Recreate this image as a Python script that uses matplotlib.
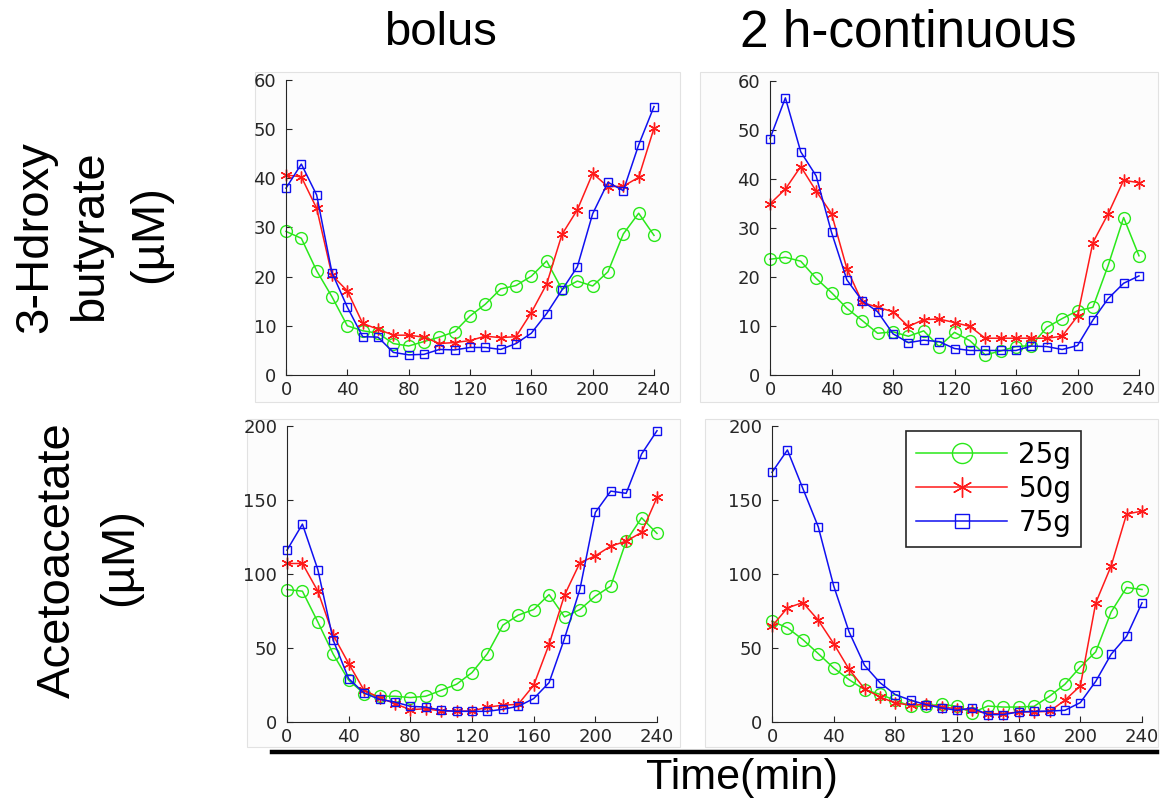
import numpy as np
import matplotlib.pyplot as plt
from matplotlib.patches import Rectangle
from matplotlib.lines import Line2D

# time axis (min)
time = list(range(0, 250, 10))

# 3-Hydroxybutyrate, bolus
hb_bolus_25 = [29.2, 27.8, 21.2, 15.9, 10.0, 9.0, 8.5, 6.4, 5.9, 6.8, 7.7, 8.8, 12.0,
               14.4, 17.5, 18.2, 20.1, 23.2, 17.4, 19.1, 18.1, 21.0, 28.7, 32.9, 28.4]
hb_bolus_50 = [40.7, 40.3, 33.9, 20.3, 17.1, 10.5, 9.3, 8.1, 8.1, 7.7, 6.4, 6.6, 7.0,
               7.9, 7.6, 7.8, 12.7, 18.5, 28.6, 33.6, 41.0, 38.3, 38.4, 40.2, 50.2]
hb_bolus_75 = [38.0, 42.9, 36.6, 20.8, 13.8, 7.8, 7.7, 4.6, 4.1, 4.2, 5.2, 5.1, 5.6,
               5.6, 5.2, 6.4, 8.5, 12.5, 17.3, 22.0, 32.8, 39.2, 37.5, 46.8, 54.6]

# 3-Hydroxybutyrate, 2 h-continuous
hb_cont_25 = [23.6, 24.0, 23.2, 19.7, 16.8, 13.6, 11.1, 8.5, 8.8, 7.9, 9.0, 5.8, 8.7,
              7.0, 4.1, 4.9, 5.8, 6.0, 9.7, 11.5, 13.1, 13.8, 22.4, 32.1, 24.3]
hb_cont_50 = [34.9, 37.9, 42.5, 37.5, 32.9, 21.7, 14.8, 13.8, 12.9, 9.9, 11.3, 11.4, 10.7,
              9.9, 7.5, 7.5, 7.5, 7.5, 7.5, 7.9, 12.0, 27.0, 32.9, 39.7, 39.2]
hb_cont_75 = [48.2, 56.5, 45.5, 40.6, 29.1, 19.4, 15.1, 12.9, 8.4, 6.6, 7.1, 6.8, 5.4,
              5.0, 5.0, 5.0, 5.0, 5.9, 5.8, 5.2, 6.0, 11.2, 15.6, 18.7, 20.2]

# Acetoacetate, bolus
aa_bolus_25 = [89.5, 88.4, 67.6, 45.8, 28.2, 19.2, 17.4, 17.4, 16.5, 17.4, 21.4, 25.5, 33.4,
               46.2, 65.4, 72.2, 76.0, 86.1, 71.0, 76.0, 85.0, 91.8, 122.2, 138.0, 127.4]
aa_bolus_50 = [107.1, 107.1, 88.4, 58.6, 39.5, 21.4, 16.5, 12.4, 8.3, 9.0, 7.4, 7.4, 7.4,
               10.1, 11.3, 12.0, 24.8, 52.5, 85.7, 107.6, 112.3, 118.8, 122.2, 128.1, 151.7]
aa_bolus_75 = [116.1, 133.7, 103.0, 55.2, 29.3, 19.6, 15.3, 13.5, 10.6, 10.1, 7.9, 7.2, 7.2,
               7.2, 8.6, 10.6, 15.8, 26.6, 56.4, 89.7, 141.6, 156.0, 154.5, 181.1, 196.8]

# Acetoacetate, 2 h-continuous
aa_cont_25 = [68.1, 63.6, 55.7, 46.2, 36.5, 28.6, 21.9, 18.7, 14.7, 10.6, 10.8, 12.0, 10.6,
              6.3, 10.8, 10.1, 10.1, 10.6, 17.4, 25.5, 37.2, 47.4, 74.4, 90.9, 89.5]
aa_cont_50 = [64.7, 77.1, 80.7, 68.8, 53.0, 35.6, 22.5, 16.9, 12.9, 11.3, 12.0, 10.1, 9.0,
              7.9, 5.6, 5.6, 6.8, 6.8, 7.2, 14.7, 24.4, 80.5, 105.5, 140.5, 142.5]
aa_cont_75 = [168.7, 183.8, 157.8, 131.9, 92.0, 60.9, 38.3, 26.6, 18.5, 14.7, 11.7, 9.5, 7.9,
              9.5, 5.0, 5.0, 6.8, 7.2, 7.4, 7.9, 13.1, 27.5, 45.8, 57.9, 80.5]

doses = ['25g', '50g', '75g']
col_titles = ['bolus', '2 h-continuous']
xticks = [0, 40, 80, 120, 160, 200, 240]

W, H = 1162, 805
fig = plt.figure(figsize=(W / 100, H / 100), dpi=100)

def fx(px):
    return px / W

def fy(py):
    return 1 - py / H

# faint panel backgrounds (pixel boxes: left, top, right, bottom)
for l, t, r, b in [(255, 72, 680, 402), (700, 72, 1158, 402),
                   (247, 419, 680, 747), (705, 419, 1158, 747)]:
    fig.patches.append(Rectangle((fx(l), fy(b)), fx(r - l), (b - t) / H,
                                 transform=fig.transFigure, fc='#fcfcfc',
                                 ec='#e2e2e2', lw=0.8, zorder=-1))

# axes boxes in pixels: x0, x240, y_top, y_zero
boxes = [[(286, 654, 80, 375), (770, 1139, 80.7, 375)],
         [(287, 657, 426, 722), (772, 1142, 426, 722)]]

data = [[(hb_bolus_25, hb_bolus_50, hb_bolus_75), (hb_cont_25, hb_cont_50, hb_cont_75)],
        [(aa_bolus_25, aa_bolus_50, aa_bolus_75), (aa_cont_25, aa_cont_50, aa_cont_75)]]
ylims = [(0, 60), (0, 200)]
yticks = [[0, 10, 20, 30, 40, 50, 60], [0, 50, 100, 150, 200]]

colors = ['#2ae81a', '#ff1a1a', '#1010f0']
markers = ['o', (6, 2, 0), 's']
msizes = [8.5, 8.5, 6]

for i in range(2):
    for j in range(2):
        x0, x1, yt, yb = boxes[i][j]
        ax = fig.add_axes([fx(x0), fy(yb), fx(x1 - x0), (yb - yt) / H])
        ax.set_zorder(1)
        ax.set_facecolor('none')
        for k in range(3):
            ax.plot(time, data[i][j][k], color=colors[k], lw=1.1,
                    marker=markers[k], ms=msizes[k], mfc='none',
                    mec=colors[k], mew=1.0, clip_on=False, label=doses[k])
        ax.set_xlim(0, 240)
        ax.set_ylim(*ylims[i])
        ax.set_xticks(xticks)
        ax.set_yticks(yticks[i])
        for s in ['top', 'right']:
            ax.spines[s].set_visible(False)
        for s in ['left', 'bottom']:
            ax.spines[s].set_color('#262626')
            ax.spines[s].set_linewidth(0.8)
        ax.tick_params(direction='in', length=4, width=0.8, color='#262626',
                       labelsize=13, labelcolor='#262626')
        ax.tick_params(axis='y', pad=7)
        ax.tick_params(axis='x', pad=4)
        if i == 1 and j == 1:
            handles = [Line2D([], [], color=colors[k], lw=1.1, marker=markers[k],
                              ms=msizes[k] * 1.7, mfc='none', mec=colors[k], mew=1.0)
                       for k in range(3)]
            leg = ax.legend(handles, doses, loc='upper left',
                            bbox_to_anchor=((906 - x0) / (x1 - x0), (yb - 431) / (yb - yt)),
                            fontsize=20, handlelength=3.3, handletextpad=0.4,
                            labelspacing=0.22, borderpad=0.35, fancybox=False,
                            framealpha=1, borderaxespad=0)
            leg.get_frame().set_edgecolor('#262626')
            leg.get_frame().set_linewidth(1.2)

big_font = ['Liberation Sans', 'DejaVu Sans']

fig.text(fx(440), fy(33), col_titles[0], fontsize=34, family=big_font,
         ha='center', va='center')
fig.text(fx(908), fy(33), col_titles[1], fontsize=37, family=big_font,
         ha='center', va='center')

row_labels = [('3-Hdroxy', 35, 237), ('butyrate', 90, 236), ('(\u00b5M)', 150, 234),
              ('Acetoacetate', 58, 560), ('(\u00b5M)', 120, 557)]
for txt, px, py in row_labels:
    fig.text(fx(px), fy(py), txt, rotation=90, fontsize=34, family=big_font,
             ha='center', va='center')

# thick rule above the shared x label
fig.add_artist(Line2D([fx(272), fx(1157)], [fy(752), fy(752)], color='black',
                      lw=3.2, transform=fig.transFigure))
fig.text(fx(742), fy(778), 'Time(min)', fontsize=31, family=big_font,
         ha='center', va='center')

fig.savefig('out.png', dpi=100, facecolor='white')
